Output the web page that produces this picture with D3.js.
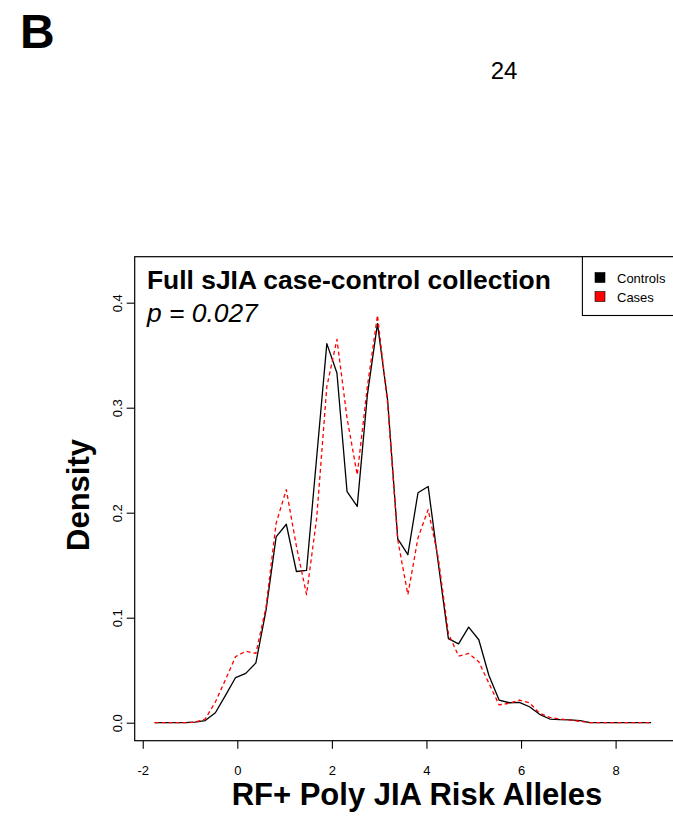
<!DOCTYPE html>
<html>
<head>
<meta charset="utf-8">
<script src="https://cdn.jsdelivr.net/npm/d3@7"></script>
<style>
  html, body { margin: 0; padding: 0; background: #fff; }
  svg { display: block; font-family: "Liberation Sans", Arial, Helvetica, sans-serif; }
</style>
</head>
<body>
<svg id="chart" width="673" height="817"></svg>
<script>
// Evaluation grid (risk allele score) for the two density curves
const alleleScore = [
  -1.750, -1.536, -1.321, -1.107, -0.893, -0.679, -0.464, -0.250, -0.036, 0.179,
   0.393,  0.607,  0.821,  1.036,  1.250,  1.464,  1.679,  1.893,  2.107, 2.321,
   2.536,  2.750,  2.964,  3.179,  3.393,  3.607,  3.821,  4.036,  4.250, 4.464,
   4.679,  4.893,  5.107,  5.321,  5.536,  5.750,  5.964,  6.179,  6.393, 6.607,
   6.821,  7.036,  7.250,  7.464,  7.679,  7.893,  8.107,  8.321,  8.536, 8.750
];

// Density among controls
const controlsDensity = [
  0, 0, 0, 0, 0.0005, 0.002, 0.0095, 0.026, 0.043, 0.047,
  0.057, 0.107, 0.177, 0.189, 0.144, 0.145, 0.253, 0.361, 0.333, 0.220,
  0.206, 0.312, 0.380, 0.307, 0.175, 0.160, 0.219, 0.225, 0.152, 0.080,
  0.075, 0.091, 0.079, 0.045, 0.0216, 0.019, 0.0193, 0.0152, 0.008, 0.0035,
  0.0029, 0.0026, 0.0019, 0, 0, 0, 0, 0, 0, 0
];

// Density among cases
const casesDensity = [
  0, 0, 0, 0, 0.0005, 0.0035, 0.0197, 0.041, 0.063, 0.068,
  0.066, 0.110, 0.190, 0.222, 0.168, 0.122, 0.195, 0.320, 0.365, 0.290,
  0.236, 0.320, 0.388, 0.304, 0.174, 0.122, 0.176, 0.203, 0.157, 0.085,
  0.0635, 0.066, 0.058, 0.0375, 0.0169, 0.0185, 0.0216, 0.019, 0.009, 0.005,
  0.0035, 0.0025, 0.0013, 0, 0, 0, 0, 0, 0, 0
];

const xTicks = [-2, 0, 2, 4, 6, 8];
const yTicks = [0, 0.1, 0.2, 0.3, 0.4];
const legendLabels = ["Controls", "Cases"];
const seriesColors = ["#000000", "#ff0000"];

const svg = d3.select("#chart");
svg.append("rect").attr("width", 673).attr("height", 817).attr("fill", "#fff");

// Plot region
const plotLeft = 134.7, plotRight = 699.3, plotTop = 256.7, plotBottom = 740.7;
const x = d3.scaleLinear().domain([-2.17, 9.77]).range([plotLeft, plotRight]);
const y = d3.scaleLinear().domain([-0.01714, 0.4438]).range([plotBottom, plotTop]);

// Panel letter and page number
svg.append("text").attr("x", 20).attr("y", 48)
  .attr("font-size", 48).attr("font-weight", "bold").text("B");
svg.append("text").attr("x", 504).attr("y", 79).attr("text-anchor", "middle")
  .attr("font-size", 24).text("24");

// Curves
const line = d3.line().x(d => x(d[0])).y(d => y(d[1]));
const controlsPts = alleleScore.map((s, i) => [s, controlsDensity[i]]);
const casesPts = alleleScore.map((s, i) => [s, casesDensity[i]]);

svg.append("path").datum(controlsPts).attr("d", line)
  .attr("fill", "none").attr("stroke", seriesColors[0]).attr("stroke-width", 1.3)
  .attr("stroke-linejoin", "round");
svg.append("path").datum(casesPts).attr("d", line)
  .attr("fill", "none").attr("stroke", seriesColors[1]).attr("stroke-width", 1.3)
  .attr("stroke-dasharray", "4,3").attr("stroke-linejoin", "round");

// Box around plot region
svg.append("rect").attr("x", plotLeft).attr("y", plotTop)
  .attr("width", plotRight - plotLeft).attr("height", plotBottom - plotTop)
  .attr("fill", "none").attr("stroke", "#000").attr("stroke-width", 1.2);

// X axis
const xAxis = svg.append("g").attr("transform", `translate(0,${plotBottom})`)
  .call(d3.axisBottom(x).tickValues(xTicks).tickSize(8).tickFormat(d3.format("d")));
xAxis.select(".domain").remove();
xAxis.selectAll(".tick line").attr("stroke", "#000").attr("stroke-width", 1.1);
xAxis.selectAll(".tick text")
  .attr("y", 34.8).attr("dy", 0)
  .attr("font-size", 13).attr("font-family", "Liberation Sans, Arial, sans-serif")
  .attr("fill", "#000")
  .text(d => d < 0 ? "-" + Math.abs(d) : d);

// Y axis (labels parallel to the axis)
const yAxis = svg.append("g").attr("transform", `translate(${plotLeft},0)`)
  .call(d3.axisLeft(y).tickValues(yTicks).tickSize(8).tickFormat(d3.format(".1f")));
yAxis.select(".domain").remove();
yAxis.selectAll(".tick line").attr("stroke", "#000").attr("stroke-width", 1.1);
yAxis.selectAll(".tick text")
  .attr("x", 0).attr("y", -12.7).attr("dy", 0)
  .attr("transform", "rotate(-90)")
  .attr("text-anchor", "middle")
  .attr("font-size", 13).attr("font-family", "Liberation Sans, Arial, sans-serif")
  .attr("fill", "#000");

// Axis titles
svg.append("text").attr("x", (plotLeft + plotRight) / 2).attr("y", 805)
  .attr("text-anchor", "middle").attr("font-size", 31).attr("font-weight", "bold")
  .text("RF+ Poly JIA Risk Alleles");
svg.append("text")
  .attr("transform", `translate(89,495) rotate(-90)`)
  .attr("text-anchor", "middle").attr("font-size", 31).attr("font-weight", "bold")
  .text("Density");

// In-plot title and p-value
svg.append("text").attr("x", 147).attr("y", 289)
  .attr("font-size", 26.4).attr("font-weight", "bold")
  .text("Full sJIA case-control collection");
svg.append("text").attr("x", 147).attr("y", 322)
  .attr("font-size", 26.4).attr("font-style", "italic")
  .text("p = 0.027");

// Legend (top right)
const legX = 582.4, legY = plotTop, legH = 58.8;
svg.append("rect").attr("x", legX).attr("y", legY)
  .attr("width", plotRight - legX).attr("height", legH)
  .attr("fill", "#fff").attr("stroke", "#000").attr("stroke-width", 1.1);
const legRowY = [277.5, 296.5];
legendLabels.forEach((lab, i) => {
  svg.append("rect").attr("x", 595).attr("y", legRowY[i] - 5)
    .attr("width", 10).attr("height", 10)
    .attr("fill", seriesColors[i]).attr("stroke", "#000").attr("stroke-width", 0.6);
  svg.append("text").attr("x", 617).attr("y", legRowY[i] + 5.5)
    .attr("font-size", 13).text(lab);
});
</script>
</body>
</html>
